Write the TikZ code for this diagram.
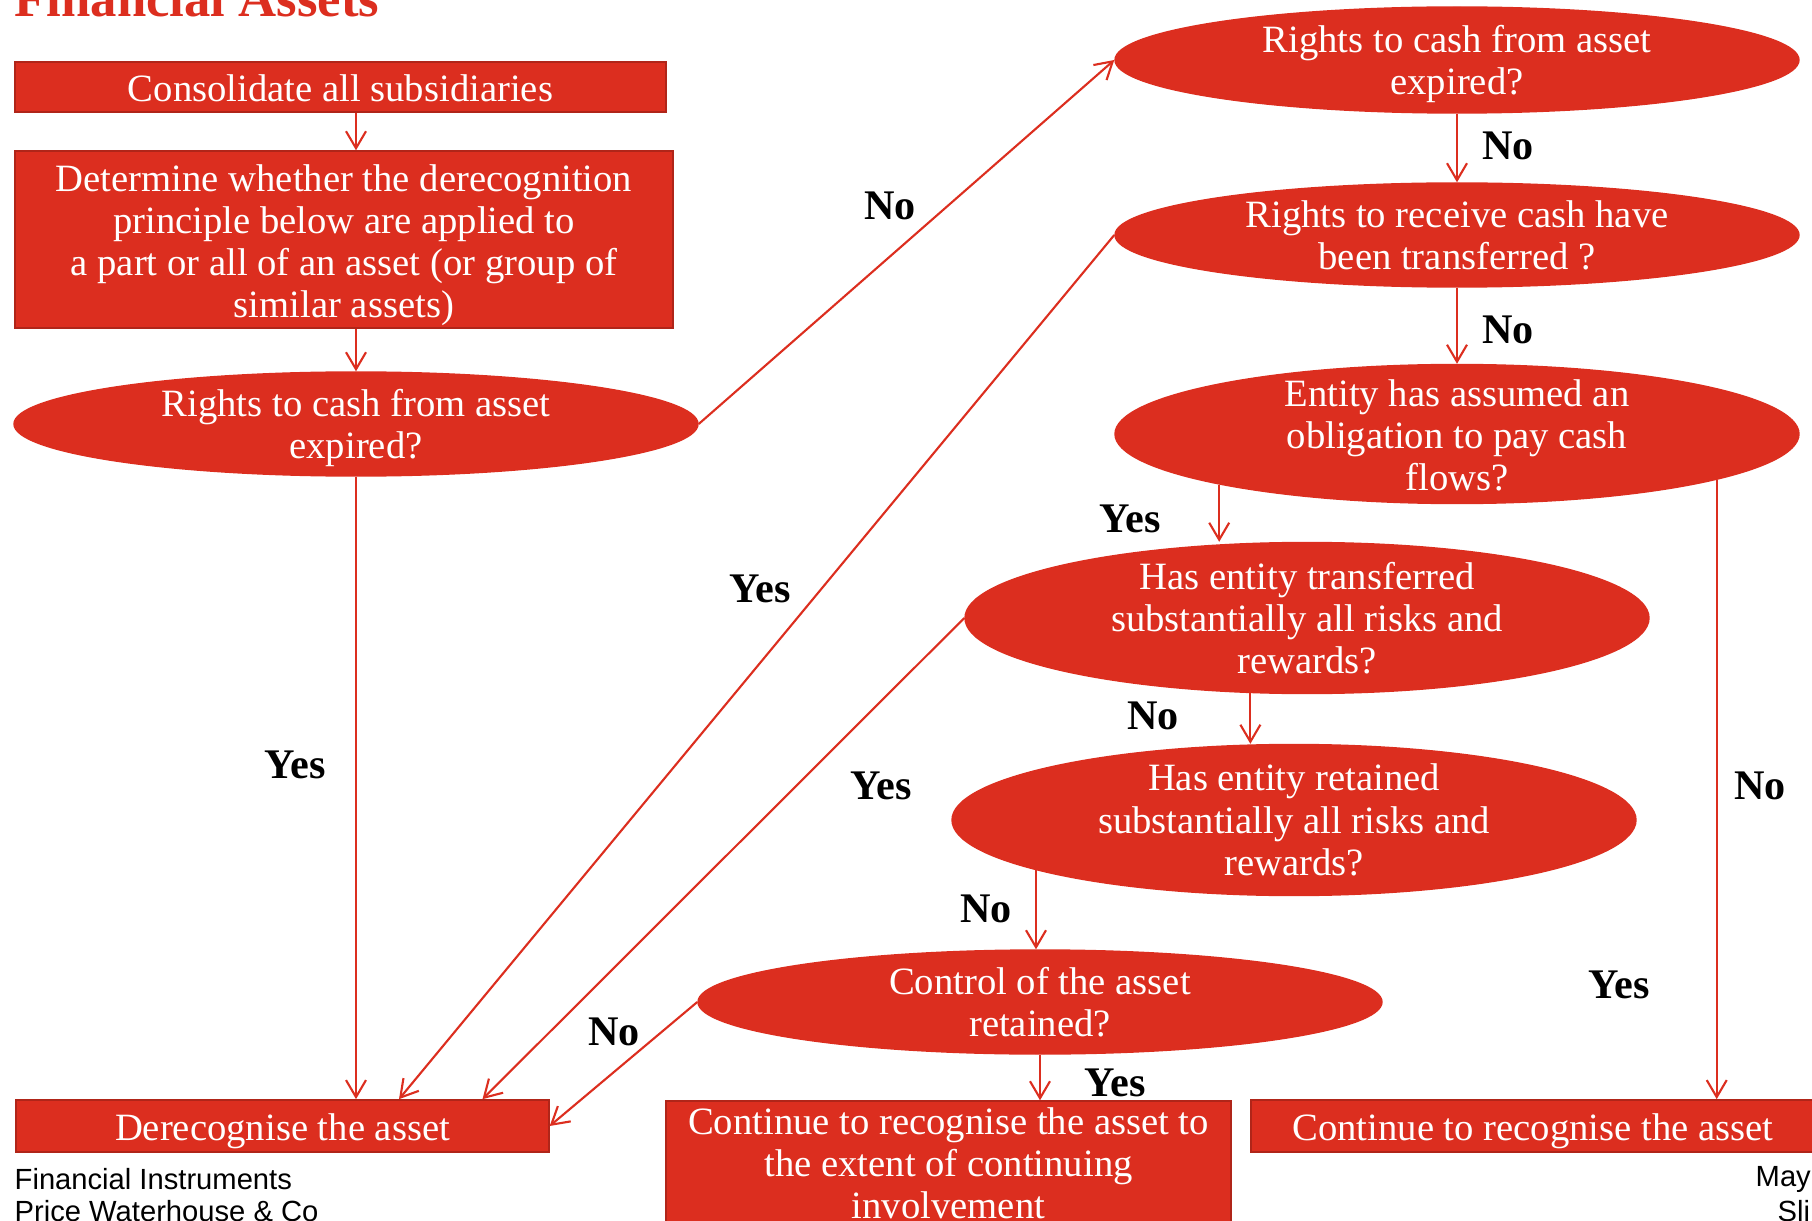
\documentclass[tikz,border=0pt]{standalone}
\usepackage{fontspec}
\setmainfont{Liberation Serif}
\newfontfamily\footfont{Liberation Sans}
\usepackage{xcolor}
\usepackage{tikz}
\usetikzlibrary{shapes.geometric, arrows.meta, positioning}

\definecolor{pwcred}{RGB}{220,46,31}
\newcommand{\padtop}[1][10pt]{\rule{0pt}{#1}}

\begin{document}
\begin{tikzpicture}[
    %% ── Symbol styles ─────────────────────────────────────────
    box/.style={
        rectangle,
        draw=pwcred!80!black, line width=0.4pt, fill=pwcred,
        text=white, align=center, inner sep=1pt,
        font=\fontsize{11}{12}\selectfont
    },
    query/.style={
        ellipse,
        minimum width=6.84cm,
        inner xsep=0pt, inner ysep=-2mm,
        draw=pwcred, fill=pwcred,
        text=white, align=center,
        font=\fontsize{11}{12}\selectfont
    },
    lbl/.style={inner sep=0pt, font=\fontsize{12}{14}\selectfont\bfseries},
    foot/.style={anchor=west, inner sep=0pt, font=\footfont\fontsize{8.3}{10}\selectfont},
    arrow/.style={line width=0.6pt, draw=pwcred, -{Straight Barb[length=1.7mm, width=2mm]}}
]

\useasboundingbox (0,0) rectangle (18.12,12.20);
\clip (0,0) rectangle (18.12,12.20);

%% ── Title ─────────────────────────────────────────────────────
\node (title) [anchor=base west, inner sep=0pt, text=pwcred,
    font=\fontsize{15}{18}\selectfont\bfseries] at (0.14,12.03) {Financial Assets};

%% ── Left column ───────────────────────────────────────────────
\node (consol)  [box, minimum width=6.51cm, minimum height=0.50cm] at (3.405,11.33) {\padtop[8.3pt]Consolidate all subsidiaries};
\node (determ)  [box, inner ysep=0pt, minimum width=6.58cm, minimum height=1.77cm] at (3.44,9.805)
    {\padtop[11pt]Determine whether the derecognition\\ principle below are applied to\\ a part or all of an asset (or group of\\ similar assets)};
\node (expA)    [query, minimum height=1.04cm] at (3.56,7.96) {\padtop Rights to cash from asset\\ expired?};
\node (derec)   [box, minimum width=5.33cm, minimum height=0.50cm] at (2.825,0.94) {\padtop[10.5pt]Derecognise the asset};

%% ── Right column ──────────────────────────────────────────────
\node (expB)    [query, minimum height=1.06cm] at (14.57,11.60) {\padtop Rights to cash from asset\\ expired?};
\node (recv)    [query, minimum height=1.04cm] at (14.57,9.85) {Rights to receive cash have\\ been transferred ?};
\node (oblig)   [query, minimum height=1.39cm] at (14.57,7.86) {\padtop[8.5pt]Entity has assumed an\\ obligation to pay cash\\ flows?};
\node (transf)  [query, minimum height=1.51cm] at (13.07,6.02) {Has entity transferred\\ substantially all risks and\\ rewards?};
\node (retain)  [query, minimum height=1.51cm] at (12.94,4.00) {Has entity retained\\ substantially all risks and\\ rewards?};
\node (control) [query, minimum height=1.04cm] at (10.40,2.18) {Control of the asset\\ retained?};
\node (contInv) [box, minimum width=5.65cm, minimum height=1.24cm] at (9.485,0.57)
    {Continue to recognise the asset to\\ the extent of continuing\\ involvement};
\node (contRec) [box, minimum width=5.64cm, minimum height=0.50cm] at (15.33,0.94) {\padtop[10.5pt]Continue to recognise the asset};

%% ── Flow arrows ───────────────────────────────────────────────
\draw [arrow] (consol.south -| expA.north) -- (determ.north -| expA.north);
\draw [arrow] (determ.south -| expA.north) -- (expA.north);
\draw [arrow] (expA.south) -- (expA.south |- derec.north);
\draw [arrow] (expA.east)  -- (expB.west);
\draw [arrow] (expB) -- (recv);
\draw [arrow] (recv) -- (oblig);
\draw [arrow] (recv.west)   -- ([xshift=1.165cm]derec.north);
\draw [arrow] (oblig.192)   -- (oblig.192 |- transf.north);
\draw [arrow] (oblig.350)   -- (oblig.350 |- contRec.north);
\draw [arrow] (transf.west) -- ([xshift=2.0cm]derec.north);
\draw [arrow] (transf.233)  -- (transf.233 |- retain.north);
\draw [arrow] (retain.191)  -- (retain.191 |- control.north);
\draw [arrow] (control.west)  -- (derec.east);
\draw [arrow] (control.south) -- (control.south |- contInv.north);

%% ── Branch labels ─────────────────────────────────────────────
\node (yesA) [lbl] at (2.95,4.55)   {Yes};
\node (noA)  [lbl] at (8.90,10.14)  {No};
\node (noB)  [lbl] at (15.08,10.74) {No};
\node (noC)  [lbl] at (15.08,8.90)  {No};
\node (yesB) [lbl] at (7.60,6.31)   {Yes};
\node (yesC) [lbl] at (11.30,7.01)  {Yes};
\node (noD)  [lbl] at (17.60,4.34)  {No};
\node (yesD) [lbl] at (16.19,2.35)  {Yes};
\node (yesE) [lbl] at (8.81,4.34)   {Yes};
\node (noE)  [lbl] at (11.53,5.04)  {No};
\node (noF)  [lbl] at (9.86,3.11)   {No};
\node (noG)  [lbl] at (6.14,1.88)   {No};
\node (yesF) [lbl] at (11.15,1.37)  {Yes};

%% ── Footer ────────────────────────────────────────────────────
\node (footA) [foot] at (0.14,0.41)  {Financial Instruments};
\node (footB) [foot] at (0.14,0.09)  {Price Waterhouse \& Co};
\node (footC) [foot] at (17.55,0.41) {May};
\node (footD) [foot] at (17.77,0.09) {Sli};

\end{tikzpicture}
\end{document}
